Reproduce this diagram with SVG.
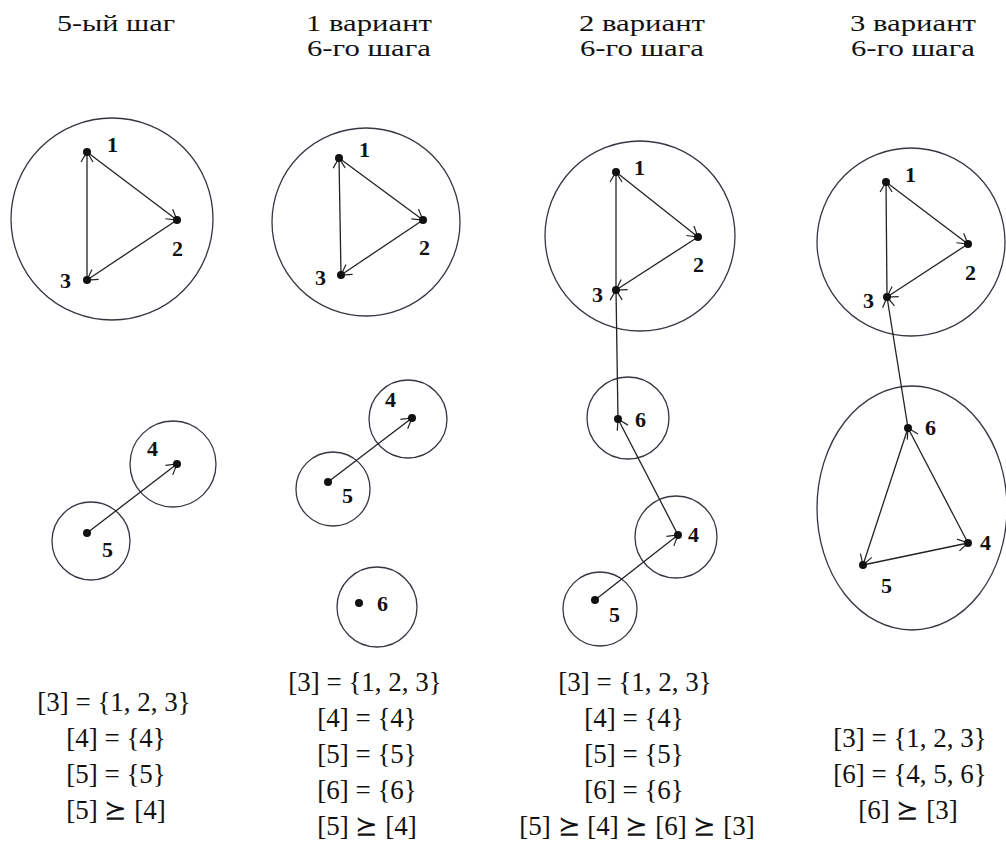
<svg xmlns="http://www.w3.org/2000/svg" width="1006" height="847" viewBox="0 0 1006 847">
<style>
.hdr{font-family:"Liberation Serif","Times New Roman","DejaVu Serif",serif;font-size:24px;fill:#111;text-anchor:middle}
.math{font-family:"Liberation Serif","Times New Roman","DejaVu Serif",serif;font-size:27px;fill:#111;text-anchor:middle}
.lbl{font-family:"Liberation Serif","Times New Roman","DejaVu Serif",serif;font-weight:bold;font-size:22px;fill:#111}
.grp{fill:none;stroke:#3a3440;stroke-width:1.3}
.dot{fill:#111}
.edge{fill:none;stroke:#222;stroke-width:1.3;marker-end:url(#arr)}
</style>
<defs>
<marker id="arr" markerUnits="userSpaceOnUse" markerWidth="14" markerHeight="14" viewBox="-12 -7 14 14" refX="0" refY="0" orient="auto">
<path d="M-10,-6 L0,0 L-10,6" fill="none" stroke="#222" stroke-width="1.2"/>
</marker>
</defs>
<rect width="1006" height="847" fill="#fff"/>

<g id="headers">
<text class="hdr" x="116" y="31" textLength="118" lengthAdjust="spacingAndGlyphs">5-ый шаг</text>
<text class="hdr" x="369" y="31" textLength="126" lengthAdjust="spacingAndGlyphs">1 вариант</text>
<text class="hdr" x="369" y="56" textLength="124" lengthAdjust="spacingAndGlyphs">6-го шага</text>
<text class="hdr" x="642" y="31" textLength="126" lengthAdjust="spacingAndGlyphs">2 вариант</text>
<text class="hdr" x="642" y="56" textLength="124" lengthAdjust="spacingAndGlyphs">6-го шага</text>
<text class="hdr" x="913" y="31" textLength="126" lengthAdjust="spacingAndGlyphs">3 вариант</text>
<text class="hdr" x="913" y="56" textLength="124" lengthAdjust="spacingAndGlyphs">6-го шага</text>
</g>

<g id="groups">
<circle class="grp" cx="112" cy="219" r="101"/>
<circle class="grp" cx="173" cy="464" r="43"/>
<circle class="grp" cx="91" cy="541" r="39"/>
<circle class="grp" cx="366" cy="222" r="94"/>
<circle class="grp" cx="408" cy="419" r="39"/>
<circle class="grp" cx="333" cy="489" r="37"/>
<circle class="grp" cx="377" cy="607" r="40"/>
<circle class="grp" cx="640" cy="236" r="95"/>
<circle class="grp" cx="628" cy="418" r="41"/>
<circle class="grp" cx="676" cy="537" r="41"/>
<circle class="grp" cx="600" cy="609" r="37"/>
<circle class="grp" cx="911" cy="242" r="94"/>
<ellipse class="grp" cx="912" cy="508" rx="95" ry="122"/>
</g>

<g id="connectors">
<line class="edge" x1="87" y1="152" x2="177" y2="220"/>
<line class="edge" x1="177" y1="220" x2="87" y2="280"/>
<line class="edge" x1="87" y1="280" x2="87" y2="152"/>
<line class="edge" x1="87" y1="533" x2="177" y2="464"/>
<line class="edge" x1="339" y1="158" x2="423" y2="220"/>
<line class="edge" x1="423" y1="220" x2="341" y2="275"/>
<line class="edge" x1="341" y1="275" x2="339" y2="158"/>
<line class="edge" x1="328" y1="482" x2="412" y2="418"/>
<line class="edge" x1="616" y1="172" x2="698" y2="237"/>
<line class="edge" x1="698" y1="237" x2="616" y2="290"/>
<line class="edge" x1="616" y1="290" x2="616" y2="172"/>
<line class="edge" x1="618" y1="419" x2="616" y2="290"/>
<line class="edge" x1="678" y1="535" x2="618" y2="419"/>
<line class="edge" x1="595" y1="600" x2="678" y2="535"/>
<line class="edge" x1="886" y1="182" x2="968" y2="244"/>
<line class="edge" x1="968" y1="244" x2="887" y2="297"/>
<line class="edge" x1="887" y1="297" x2="886" y2="182"/>
<line class="edge" x1="908" y1="428" x2="887" y2="297"/>
<line class="edge" x1="908" y1="428" x2="863" y2="565"/>
<line class="edge" x1="863" y1="565" x2="968" y2="543"/>
<line class="edge" x1="968" y1="543" x2="908" y2="428"/>
</g>

<g id="p1-n1"><circle class="dot" cx="87" cy="152" r="4"/><text class="lbl" x="107" y="152">1</text></g>
<g id="p1-n2"><circle class="dot" cx="177" cy="220" r="4"/><text class="lbl" x="172" y="256">2</text></g>
<g id="p1-n3"><circle class="dot" cx="87" cy="280" r="4"/><text class="lbl" x="60" y="288">3</text></g>
<g id="p1-n4"><circle class="dot" cx="177" cy="464" r="4"/><text class="lbl" x="147" y="456">4</text></g>
<g id="p1-n5"><circle class="dot" cx="87" cy="533" r="4"/><text class="lbl" x="102" y="557">5</text></g>

<g id="p2-n1"><circle class="dot" cx="339" cy="158" r="4"/><text class="lbl" x="359" y="157">1</text></g>
<g id="p2-n2"><circle class="dot" cx="423" cy="220" r="4"/><text class="lbl" x="419" y="255">2</text></g>
<g id="p2-n3"><circle class="dot" cx="341" cy="275" r="4"/><text class="lbl" x="315" y="285">3</text></g>
<g id="p2-n4"><circle class="dot" cx="412" cy="418" r="4"/><text class="lbl" x="385" y="407">4</text></g>
<g id="p2-n5"><circle class="dot" cx="328" cy="482" r="4"/><text class="lbl" x="342" y="503">5</text></g>
<g id="p2-n6"><circle class="dot" cx="359" cy="603" r="4"/><text class="lbl" x="377" y="611">6</text></g>

<g id="p3-n1"><circle class="dot" cx="616" cy="172" r="4"/><text class="lbl" x="634" y="175">1</text></g>
<g id="p3-n2"><circle class="dot" cx="698" cy="237" r="4"/><text class="lbl" x="693" y="272">2</text></g>
<g id="p3-n3"><circle class="dot" cx="616" cy="290" r="4"/><text class="lbl" x="592" y="302">3</text></g>
<g id="p3-n6"><circle class="dot" cx="618" cy="419" r="4"/><text class="lbl" x="635" y="427">6</text></g>
<g id="p3-n4"><circle class="dot" cx="678" cy="535" r="4"/><text class="lbl" x="688" y="542">4</text></g>
<g id="p3-n5"><circle class="dot" cx="595" cy="600" r="4"/><text class="lbl" x="609" y="622">5</text></g>

<g id="p4-n1"><circle class="dot" cx="886" cy="182" r="4"/><text class="lbl" x="905" y="182">1</text></g>
<g id="p4-n2"><circle class="dot" cx="968" cy="244" r="4"/><text class="lbl" x="965" y="280">2</text></g>
<g id="p4-n3"><circle class="dot" cx="887" cy="297" r="4"/><text class="lbl" x="863" y="308">3</text></g>
<g id="p4-n6"><circle class="dot" cx="908" cy="428" r="4"/><text class="lbl" x="925" y="435">6</text></g>
<g id="p4-n4"><circle class="dot" cx="968" cy="543" r="4"/><text class="lbl" x="980" y="550">4</text></g>
<g id="p4-n5"><circle class="dot" cx="863" cy="565" r="4"/><text class="lbl" x="881" y="593">5</text></g>

<g id="formulas">
<text class="math" x="114" y="711">[3] = {1, 2, 3}</text>
<text class="math" x="116" y="747">[4] = {4}</text>
<text class="math" x="116" y="783">[5] = {5}</text>
<text class="math" x="116" y="819">[5] ⪰ [4]</text>

<text class="math" x="365" y="691">[3] = {1, 2, 3}</text>
<text class="math" x="367" y="727">[4] = {4}</text>
<text class="math" x="367" y="763">[5] = {5}</text>
<text class="math" x="367" y="799">[6] = {6}</text>
<text class="math" x="367" y="835">[5] ⪰ [4]</text>

<text class="math" x="635" y="691">[3] = {1, 2, 3}</text>
<text class="math" x="634" y="727">[4] = {4}</text>
<text class="math" x="634" y="763">[5] = {5}</text>
<text class="math" x="634" y="799">[6] = {6}</text>
<text class="math" x="637" y="835">[5] ⪰ [4] ⪰ [6] ⪰ [3]</text>

<text class="math" x="910" y="747">[3] = {1, 2, 3}</text>
<text class="math" x="910" y="783">[6] = {4, 5, 6}</text>
<text class="math" x="908" y="819">[6] ⪰ [3]</text>
</g>
</svg>
